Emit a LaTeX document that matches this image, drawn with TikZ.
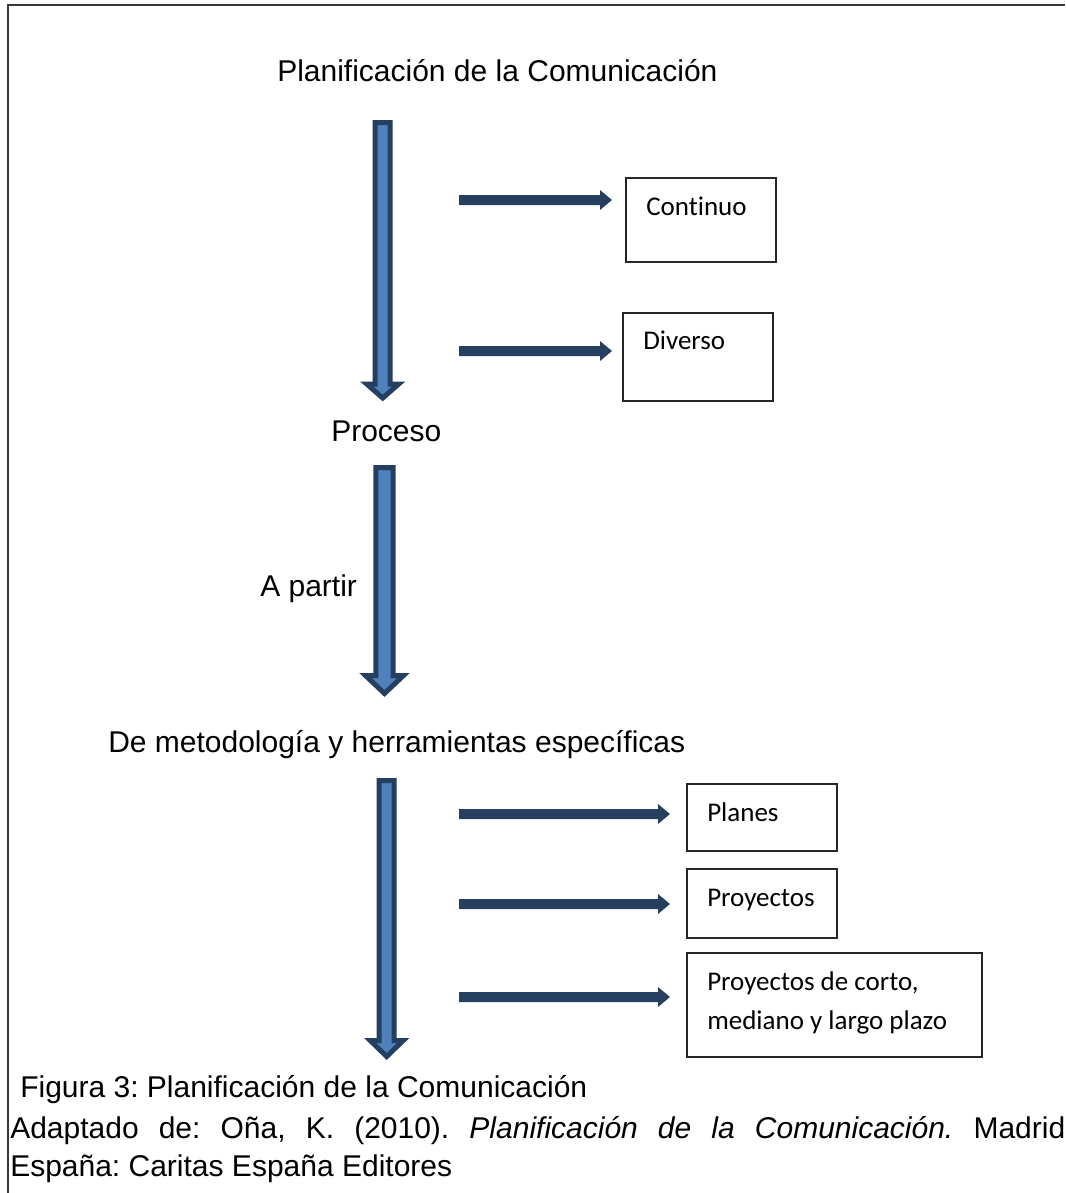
\documentclass[tikz,border=0pt]{standalone}
\usepackage{fontspec}
\setmainfont{Liberation Sans}
\newfontfamily\calibri[Ligatures=NoCommon]{Carlito}
\usetikzlibrary{calc}
\frenchspacing

\definecolor{navy}{HTML}{243F60}
\definecolor{steel}{HTML}{4F81BD}

\tikzset{
  heading/.style={anchor=base west, inner sep=0pt, font=\fontsize{22.5}{27}\selectfont},
  boxlabel/.style={anchor=base west, inner sep=0pt, font=\calibri\fontsize{20.25}{29}\selectfont},
  optbox/.style={draw=black!85, line width=1.1pt, anchor=north west, inner sep=0pt, outer sep=0pt},
  bigarrow/.style={draw=navy, fill=steel, line width=3.75pt, line join=miter},
  flatarrow/.style={fill=navy},
  frameline/.style={draw=black!78, line width=1.5pt}
}

% hollow down block arrow: top, tip, head length, shaft half width, head half width
\newcommand{\blockdown}[5]{%
  \draw[bigarrow] ($(#1)+(-#4,0)$) -- ($(#1)+(#4,0)$) -- ($(#2)+(#4,-#3)$)
    -- ($(#2)+(#5,-#3)$) -- (#2) -- ($(#2)+(-#5,-#3)$) -- ($(#2)+(-#4,-#3)$) -- cycle;}

% solid right block arrow from start to tip
\newcommand{\blockright}[2]{%
  \fill[flatarrow] ($(#1)+(0,-5)$) -- ($(#2)+(-12,-5)$) -- ($(#2)+(-12,-10)$) -- (#2)
    -- ($(#2)+(-12,10)$) -- ($(#2)+(-12,5)$) -- ($(#1)+(0,5)$) -- cycle;}

\begin{document}
\begin{tikzpicture}[x=0.75pt,y=-0.75pt]
\useasboundingbox (0,0) rectangle (1065,1193);

% frame
\draw[frameline] (8,1193) -- (8,5) -- (1065,5);

% headings
\node[heading] (plan) at (277,81) {Planificación de la Comunicación};
\node[heading] (proc) at (331,441) {Proceso};
\node[heading] (apartir) at (260,596) {A partir};
\node[heading] (metod) at (108,752) {De metodología y herramientas específicas};

% vertical arrows
\coordinate (v1top) at (382.7,122.5);
\coordinate (v1tip) at (382.7,398);
\coordinate (v2top) at (384.5,467.5);
\coordinate (v2tip) at (384.5,693.5);
\coordinate (v3top) at (386.7,780.5);
\coordinate (v3tip) at (386.7,1056.5);
\blockdown{v1top}{v1tip}{14}{7.5}{16}
\blockdown{v2top}{v2tip}{18}{8.7}{19}
\blockdown{v3top}{v3tip}{16}{7.5}{16.5}

% option boxes
\node[optbox, minimum width=112.5pt, minimum height=63pt] (cont) at (626,178) {};
\node[optbox, minimum width=112.5pt, minimum height=66pt] (div) at (623,313) {};
\node[optbox, minimum width=112.5pt, minimum height=50.25pt] (planes) at (687,784) {};
\node[optbox, minimum width=112.5pt, minimum height=51.75pt] (proy) at (687,869) {};
\node[optbox, minimum width=221.25pt, minimum height=78pt] (plazo) at (687,953) {};

\node[boxlabel] (contl) at ($(cont.north west)+(20,37)$) {Continuo};
\node[boxlabel] (divl) at ($(div.north west)+(20,36)$) {Diverso};
\node[boxlabel] (planesl) at ($(planes.north west)+(20,37.5)$) {Planes};
\node[boxlabel] (proyl) at ($(proy.north west)+(20,37.5)$) {Proyectos};
\node[boxlabel] (plazol1) at ($(plazo.north west)+(20,37)$) {Proyectos de corto,};
\node[boxlabel] (plazol2) at ($(plazo.north west)+(20,76)$) {mediano y largo plazo};

% horizontal arrows
\coordinate (h1s) at (459,200);   \coordinate (h1e) at (612,200);
\coordinate (h2s) at (459,351);   \coordinate (h2e) at (612,351);
\coordinate (h3s) at (459,814);   \coordinate (h3e) at (670,814);
\coordinate (h4s) at (459,904);   \coordinate (h4e) at (670,904);
\coordinate (h5s) at (459,997);   \coordinate (h5e) at (670,997);
\blockright{h1s}{h1e}
\blockright{h2s}{h2e}
\blockright{h3s}{h3e}
\blockright{h4s}{h4e}
\blockright{h5s}{h5e}

% caption
\node[heading] (cap1) at (20,1097) {Figura 3: Planificación de la Comunicación};
\node[heading] (cap2) at (10,1138) {\makebox[791.25pt][s]{Adaptado de: Oña, K. (2010). \textit{Planificación de la Comunicación.} Madrid}};
\node[heading] (cap3) at (10,1176) {España: Caritas España Editores};
\end{tikzpicture}
\end{document}
